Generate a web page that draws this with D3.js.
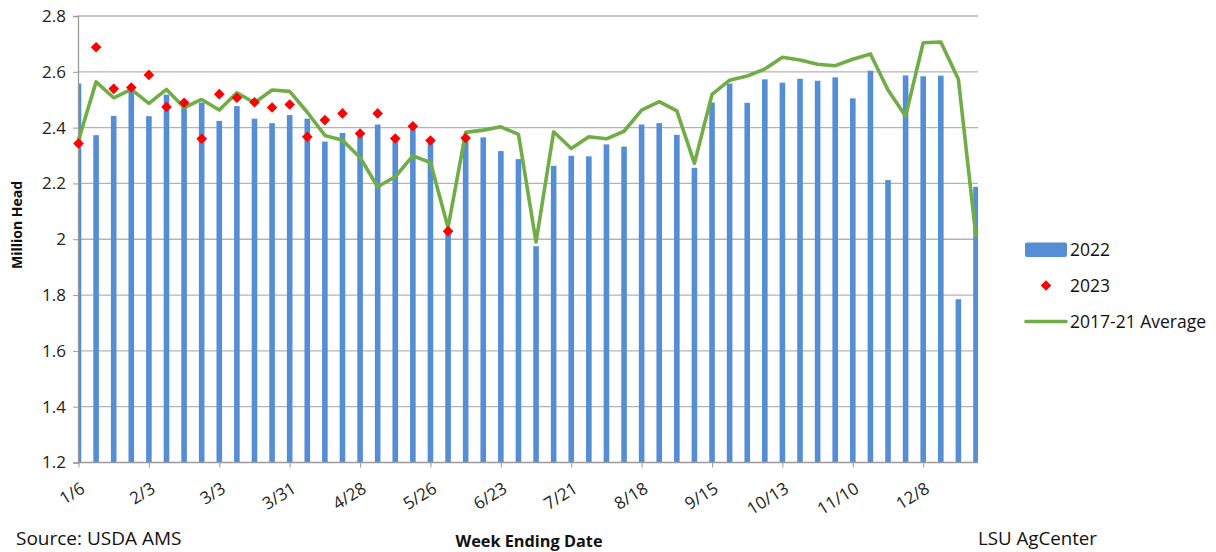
<!DOCTYPE html>
<html>
<head>
<meta charset="utf-8">
<script src="https://cdn.jsdelivr.net/npm/d3@7"></script>
<style>
  body { margin: 0; background: #fff; }
  svg { font-family: "Open Sans", "Noto Sans", sans-serif; }
</style>
</head>
<body>
<div id="chart"></div>
<script>
// week ending dates (category axis)
const weeks = ["1/6","1/13","1/20","1/27","2/3","2/10","2/17","2/24","3/3","3/10","3/17","3/24","3/31",
  "4/7","4/14","4/21","4/28","5/5","5/12","5/19","5/26","6/2","6/9","6/16","6/23","6/30",
  "7/7","7/14","7/21","7/28","8/4","8/11","8/18","8/25","9/1","9/8","9/15","9/22","9/29",
  "10/6","10/13","10/20","10/27","11/3","11/10","11/17","11/24","12/1","12/8","12/15","12/22","12/29"];
const tickWeeks = ["1/6","2/3","3/3","3/31","4/28","5/26","6/23","7/21","8/18","9/15","10/13","11/10","12/8"];
const yTicks = [1.2, 1.4, 1.6, 1.8, 2, 2.2, 2.4, 2.6, 2.8];

// 2022 weekly slaughter, million head
const values2022 = [2.558,2.373,2.442,2.53,2.441,2.518,2.48,2.49,2.424,2.477,2.432,2.416,2.445,
  2.432,2.35,2.381,2.38,2.411,2.352,2.397,2.35,2.027,2.367,2.365,2.316,2.287,
  1.975,2.263,2.299,2.297,2.34,2.332,2.411,2.416,2.374,2.256,2.49,2.558,2.489,
  2.573,2.561,2.575,2.568,2.58,2.505,2.604,2.212,2.587,2.584,2.586,1.785,2.188];

// 2023 weekly (year to date)
const values2023 = [2.343,2.688,2.539,2.544,2.589,2.474,2.489,2.36,2.52,2.507,2.491,2.472,2.483,
  2.367,2.427,2.451,2.379,2.451,2.361,2.405,2.354,2.029,2.363];

// 2017-21 average
const valuesAvg = [2.355,2.564,2.507,2.537,2.487,2.537,2.472,2.501,2.463,2.525,2.489,2.535,2.53,
  2.455,2.372,2.355,2.293,2.188,2.224,2.299,2.275,2.042,2.383,2.391,2.403,2.376,
  1.99,2.385,2.325,2.367,2.36,2.387,2.463,2.493,2.46,2.272,2.519,2.57,2.585,
  2.61,2.652,2.642,2.627,2.622,2.645,2.664,2.535,2.441,2.704,2.707,2.573,2.008];

const W = 1216, H = 552;
const plotLeft = 78, plotRight = 978, plotTop = 16, plotBottom = 462.5;

const svg = d3.select("#chart").append("svg")
  .attr("width", W).attr("height", H);

const x = d3.scalePoint().domain(weeks).range([78.5, 976]);
const y = d3.scaleLinear().domain([1.2, 2.8]).range([plotBottom, plotTop]);

svg.append("clipPath").attr("id", "plot-clip")
  .append("rect").attr("x", plotLeft).attr("y", 0)
  .attr("width", plotRight - plotLeft).attr("height", plotBottom);

// GRIDLINES
svg.append("g")
  .selectAll("line")
  .data(yTicks.filter(d => d > 1.2))
  .enter()
  .append("line")
  .attr("x1", plotLeft).attr("x2", plotRight)
  .attr("y1", d => y(d)).attr("y2", d => y(d))
  .attr("stroke", "#b3b3b3").attr("stroke-width", 1.3);

// BARS 2022
const barW = 5.6;
svg.append("g")
  .attr("clip-path", "url(#plot-clip)")
  .selectAll("rect")
  .data(values2022)
  .enter()
  .append("rect")
  .attr("x", (d, i) => x(weeks[i]) - barW / 2)
  .attr("y", d => y(d))
  .attr("width", barW)
  .attr("height", d => y(1.2) - y(d))
  .attr("fill", "#558ed5");

// AXES
const yAxis = d3.axisLeft(y).tickValues(yTicks).tickSize(5).tickFormat(d => d3.format("")(d));
const gy = svg.append("g").attr("transform", "translate(" + plotLeft + ",0)").call(yAxis);
gy.select(".domain").attr("stroke", "#9a9a9a").attr("stroke-width", 1.3);
gy.selectAll(".tick line").attr("stroke", "#9a9a9a");
gy.selectAll(".tick text").attr("x", -12).attr("font-size", 17).attr("fill", "#222")
  .attr("font-family", "Open Sans");

const xAxis = d3.axisBottom(x).tickValues(tickWeeks).tickSize(5).tickSizeOuter(0);
const gx = svg.append("g").attr("transform", "translate(0," + plotBottom + ")").call(xAxis);
gx.select(".domain").attr("stroke", "#9a9a9a").attr("stroke-width", 1.3)
  .attr("d", "M" + plotLeft + ",0H" + plotRight);
gx.selectAll(".tick line").attr("stroke", "#9a9a9a");
gx.selectAll(".tick text")
  .attr("font-size", 17).attr("fill", "#222").attr("font-family", "Open Sans")
  .attr("text-anchor", "end")
  .attr("dy", 0).attr("y", 0)
  .attr("transform", "translate(7,29) rotate(-32)");

// 2017-21 AVERAGE LINE
const line = d3.line()
  .x((d, i) => x(weeks[i]))
  .y(d => y(d));
svg.append("path")
  .datum(valuesAvg)
  .attr("d", line)
  .attr("fill", "none")
  .attr("stroke", "#71ad47")
  .attr("stroke-width", 3.6)
  .attr("stroke-linejoin", "round");

// 2023 DIAMONDS
const diamond = d3.symbol().type(d3.symbolDiamond2).size(72);
svg.append("g")
  .selectAll("path")
  .data(values2023)
  .enter()
  .append("path")
  .attr("d", diamond)
  .attr("transform", (d, i) => "translate(" + x(weeks[i]) + "," + y(d) + ")")
  .attr("fill", "#ff0000");

// AXIS TITLES AND NOTES
svg.append("text")
  .attr("transform", "translate(22,225) rotate(-90)")
  .attr("text-anchor", "middle")
  .attr("font-size", 14).attr("font-weight", "bold").attr("fill", "#111")
  .text("Million Head");

svg.append("text")
  .attr("x", 529).attr("y", 547)
  .attr("text-anchor", "middle")
  .attr("font-size", 16.3).attr("font-weight", "bold").attr("fill", "#111")
  .text("Week Ending Date");

svg.append("text")
  .attr("x", 16).attr("y", 545)
  .attr("font-size", 19).attr("fill", "#111")
  .text("Source: USDA AMS");

svg.append("text")
  .attr("x", 978).attr("y", 545)
  .attr("font-size", 18.7).attr("fill", "#111")
  .text("LSU AgCenter");

// LEGEND
const legend = svg.append("g").attr("font-size", 17.5).attr("fill", "#111");
legend.append("rect")
  .attr("x", 1025).attr("y", 242.5).attr("width", 42).attr("height", 14.5).attr("rx", 2)
  .attr("fill", "#558ed5");
legend.append("text").attr("x", 1070).attr("y", 250).attr("dy", "0.35em").text("2022");

legend.append("path")
  .attr("d", diamond)
  .attr("transform", "translate(1046,285.5)")
  .attr("fill", "#ff0000");
legend.append("text").attr("x", 1070).attr("y", 285.5).attr("dy", "0.35em").text("2023");

legend.append("line")
  .attr("x1", 1026).attr("x2", 1066).attr("y1", 321.5).attr("y2", 321.5)
  .attr("stroke", "#71ad47").attr("stroke-width", 3.6).attr("stroke-linecap", "round");
legend.append("text").attr("x", 1070).attr("y", 321.5).attr("dy", "0.35em").text("2017-21 Average");
</script>
</body>
</html>
